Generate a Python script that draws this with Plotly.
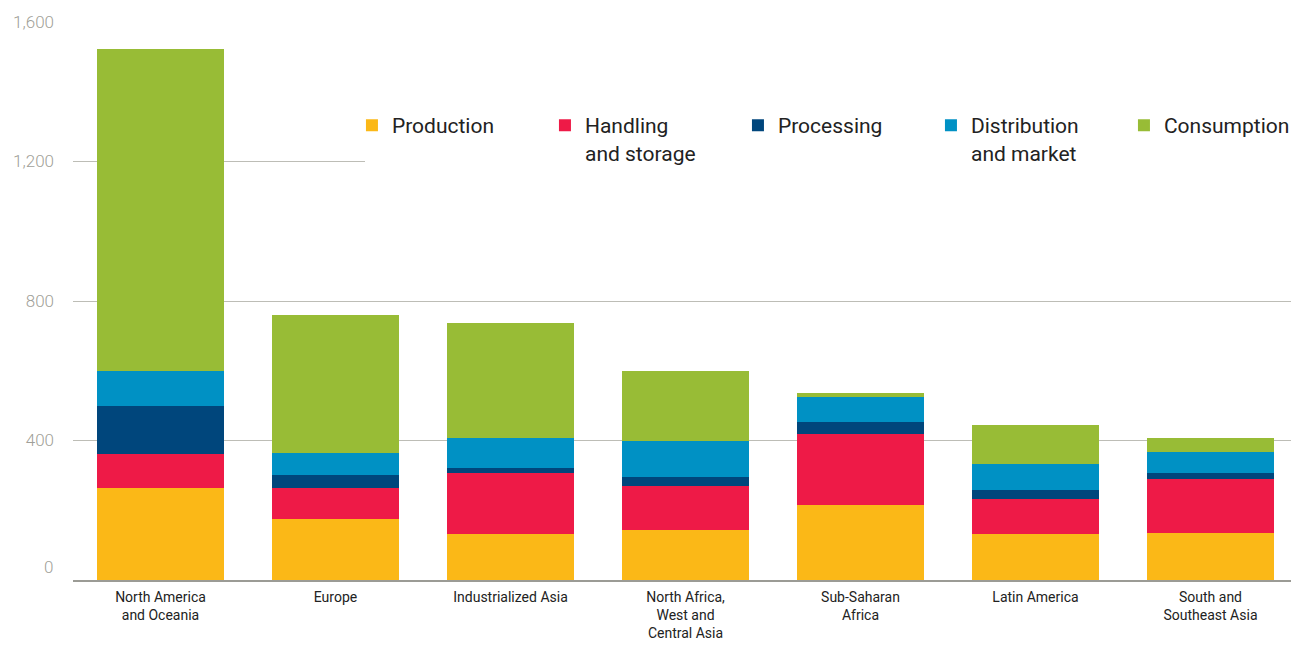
import plotly.graph_objects as go

regions = [
    "North America<br>and Oceania",
    "Europe",
    "Industrialized Asia",
    "North Africa,<br>West and<br>Central Asia",
    "Sub-Saharan<br>Africa",
    "Latin America",
    "South and<br>Southeast Asia",
]

production = [265, 176, 133, 144, 215, 131, 136]
handling = [97, 87, 173, 126, 203, 100, 153]
processing = [137, 37, 16, 24, 36, 26, 17]
distribution = [101, 63, 85, 104, 70, 75, 61]
consumption = [924, 396, 330, 200, 13, 112, 39]

stage_names = ["Production", "Handling<br>and storage", "Processing",
               "Distribution<br>and market", "Consumption"]
stage_colors = ["#FBB817", "#EE1A47", "#00467C", "#0091C4", "#98BC36"]
series = [production, handling, processing, distribution, consumption]

y_ticks = [400, 800, 1200, 1600]
y_ticktext = ["400", "800", "1,200", "1,600"]

FONT = "Roboto, sans-serif"

fig = go.Figure()
for name, color, vals in zip(stage_names, stage_colors, series):
    fig.add_trace(go.Bar(
        x=regions, y=vals, name=name,
        marker=dict(color=color, line=dict(width=0)),
    ))

fig.update_layout(
    barmode="stack",
    bargap=0.27,
    width=1283, height=636,
    margin=dict(l=65, r=0, t=14, b=64, autoexpand=False),
    paper_bgcolor="white",
    plot_bgcolor="white",
    font=dict(family=FONT, color="#222222"),
    showlegend=True,
    legend=dict(
        orientation="h",
        x=0.2397, xanchor="left",
        y=0.851, yanchor="top",
        bgcolor="white",
        font=dict(size=21, color="#222222", family=FONT),
        entrywidth=161,
        indentation=-13,
        valign="top",
        traceorder="normal",
    ),
)

fig.update_xaxes(
    range=[-0.5, 6.46],
    showgrid=False,
    showline=True, linecolor="#9b9b95", linewidth=2,
    ticks="", ticklabelstandoff=3,
    tickfont=dict(size=14, color="#222222", family=FONT),
)
fig.update_yaxes(
    range=[0, 1600],
    tickvals=y_ticks, ticktext=y_ticktext,
    showgrid=True, gridcolor="#bdbdb6", gridwidth=1,
    zeroline=False, showline=False,
    ticks="", ticklabelstandoff=18,
    tickfont=dict(size=17, color="#9f9f98", family=FONT, weight=300),
)

fig.add_annotation(
    x=0, xref="paper", y=0, yref="y",
    text="0", showarrow=False,
    xanchor="right", yanchor="middle",
    xshift=-18, yshift=13,
    font=dict(size=17, color="#9f9f98", family=FONT, weight=300),
)

fig.write_html("out.html")
